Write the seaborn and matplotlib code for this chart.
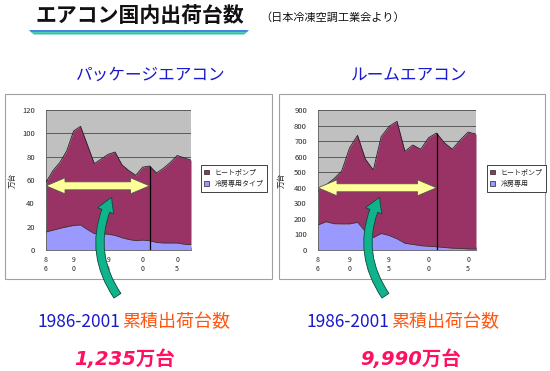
import numpy as np
import pandas as pd
import matplotlib
matplotlib.use('Agg')
import matplotlib.pyplot as plt
import seaborn as sns
from matplotlib.patches import Patch, Polygon, Rectangle, FancyArrowPatch
from matplotlib.transforms import IdentityTransform

# package air conditioners (1986-2007), 10k units
pkg_years = list(range(1986, 2008))
pkg_heatpump = [42.5, 51, 56.5, 65, 81, 84.5, 72.5, 60, 64, 68.5, 71.5, 62.5,
                59, 56, 62.5, 64, 59.5, 64, 69, 75, 74, 72.5]
pkg_cooling = [15.5, 17, 18.5, 20, 21, 21.5, 17.5, 14, 14, 13.5, 12.5, 10.5,
               9, 8, 8.5, 8, 6.5, 6, 6, 6, 5, 4.5]

# room air conditioners (1986-2006), 10k units
room_years = list(range(1986, 2007))
room_heatpump = [217, 236, 288, 340, 489, 559, 466, 434, 622, 702, 755, 591,
                 639, 620, 698, 731, 673, 636, 697, 751, 739]
room_cooling = [161, 182, 169, 168, 168, 178, 118, 80, 107, 93, 72, 43,
                36, 28, 24, 21, 16, 12, 10, 7, 6]

tick_years = [1986, 1990, 1995, 2000, 2005]
tick_labels = ['8\n6', '9\n0', '9\n5', '0\n0', '0\n5']
line_year = 2001

sns.set_theme(style='white')
plt.rcParams['font.family'] = ['Noto Sans CJK JP', 'DejaVu Sans']

W, H = 550, 371
fig = plt.figure(figsize=(5.5, 3.71), dpi=100)


def fx(x):
    return x / W


def fy(y):
    return 1 - y / H


# chart frames
for x0, x1 in [(5, 272), (279, 545)]:
    fig.add_artist(Rectangle((fx(x0), fy(279)), (x1 - x0) / W, (279 - 94) / H,
                             transform=fig.transFigure, facecolor='white',
                             edgecolor='#a0a0a0', lw=0.8, zorder=-1))

ax1 = fig.add_axes([fx(46), fy(250), 145 / W, 140 / H])
ax2 = fig.add_axes([fx(318), fy(250), 158 / W, 140 / H])


def draw_panel(ax, years, heat, cool, ymax, ystep, cool_label, arrow_level, legend_x):
    df = pd.DataFrame({'year': years, 'heat': heat, 'cool': cool})
    df['total'] = df['heat'] + df['cool']
    ax.set_facecolor('#c0c0c0')
    ax.set_axisbelow(True)
    ax.grid(axis='y', color='#4a4a4a', lw=0.6)
    ax.grid(axis='x', visible=False)
    ax.fill_between(df['year'], 0, df['cool'], color='#9999ff', lw=0, zorder=2)
    ax.fill_between(df['year'], df['cool'], df['total'], color='#993366', lw=0, zorder=2)
    sns.lineplot(data=df, x='year', y='total', color='#222222', lw=0.6, ax=ax, zorder=3)
    sns.lineplot(data=df, x='year', y='cool', color='#333333', lw=0.5, ax=ax, zorder=3)
    top = df.loc[df['year'] == line_year, 'total'].iloc[0]
    ax.vlines(line_year, 0, top, color='black', lw=0.9, zorder=4)

    ax.set_xlim(years[0], years[-1])
    ax.set_ylim(0, ymax)
    ax.set_xticks(years)
    ax.set_xticklabels([tick_labels[tick_years.index(y)] if y in tick_years else ''
                        for y in years], linespacing=1.25)
    ax.set_yticks(range(0, ymax + 1, ystep))
    ax.tick_params(axis='x', direction='in', length=2, width=0.5, color='#404040',
                   labelsize=5, pad=4, bottom=True)
    ax.tick_params(axis='y', length=0, labelsize=5.5, pad=8)
    for s in ['top', 'right']:
        ax.spines[s].set_visible(False)
    for s in ['left', 'bottom']:
        ax.spines[s].set_color('#606060')
        ax.spines[s].set_linewidth(0.6)
    ax.set_xlabel('')
    ax.set_ylabel('万台', fontsize=5.5, rotation=90)
    ax.yaxis.set_label_coords(-0.205, 0.5)

    handles = [Patch(facecolor='#993366', edgecolor='#222222', lw=0.5),
               Patch(facecolor='#9999ff', edgecolor='#222222', lw=0.5)]
    leg = ax.legend(handles, ['ヒートポンプ', cool_label], loc='upper left',
                    bbox_to_anchor=(fx(legend_x), fy(165)), bbox_transform=fig.transFigure,
                    borderaxespad=0, frameon=True, fancybox=False, framealpha=1,
                    edgecolor='#222222', fontsize=5, handlelength=0.7, handleheight=0.7,
                    handletextpad=0.8, labelspacing=0.55, borderpad=0.5)
    leg.get_frame().set_linewidth(0.6)

    # yellow double arrow from 1986 to 2001
    xa, ya = ax.transData.transform((years[0], arrow_level))
    xb, _ = ax.transData.transform((line_year, arrow_level))
    hl, hh, sh = 19, 8, 4
    pts = [(xa, ya), (xa + hl, ya + hh), (xa + hl, ya + sh), (xb - hl, ya + sh),
           (xb - hl, ya + hh), (xb, ya), (xb - hl, ya - hh), (xb - hl, ya - sh),
           (xa + hl, ya - sh), (xa + hl, ya - hh)]
    ax.add_patch(Polygon(pts, closed=True, transform=IdentityTransform(),
                         facecolor='#ffff99', edgecolor='#555555', lw=0.6,
                         clip_on=False, zorder=6))


draw_panel(ax1, pkg_years, pkg_heatpump, pkg_cooling, 120, 20, '冷房専用タイプ', 55, 201)
draw_panel(ax2, room_years, room_heatpump, room_cooling, 900, 100, '冷房専用', 400, 487)

# green curved arrows
for dx in [0, 268]:
    arr = FancyArrowPatch(posA=(119 + dx, H - 298), posB=(113 + dx, H - 195),
                          transform=IdentityTransform(),
                          arrowstyle='simple,head_width=1.25,head_length=1.05,tail_width=0.6',
                          mutation_scale=10, connectionstyle='arc3,rad=-0.31',
                          facecolor='#11b38c', edgecolor='#0a4a3a', lw=0.6, zorder=10)
    fig.add_artist(arr)

# title and underline
fig.text(fx(35), fy(16), 'エアコン国内出荷台数', fontsize=15, fontweight='bold',
         color='#111111', ha='left', va='center')
fig.add_artist(Polygon([(fx(29), fy(30)), (fx(249), fy(30)), (fx(247), fy(32.2)),
                        (fx(31), fy(32.2))], closed=True, transform=fig.transFigure,
                       facecolor='#4488dd', lw=0))
fig.add_artist(Polygon([(fx(31), fy(32.2)), (fx(247), fy(32.2)), (fx(244), fy(34.5)),
                        (fx(34), fy(34.5))], closed=True, transform=fig.transFigure,
                       facecolor='#33c4a4', lw=0))
fig.text(fx(260), fy(17.5), '（日本冷凍空調工業会より）', fontsize=8, color='#111111',
         ha='left', va='center')

fig.text(fx(150.5), fy(75.5), 'パッケージエアコン', fontsize=12, color='#1a1acc',
         ha='center', va='center')
fig.text(fx(409.5), fy(75.5), 'ルームエアコン', fontsize=12, color='#1a1acc',
         ha='center', va='center')

for xr, total_text, xc in [(120, '1,235万台', 124.7), (389, '9,990万台', 410.5)]:
    fig.text(fx(xr), fy(322), '1986-2001', fontsize=12.5, color='#1a1acc',
             ha='right', va='center')
    fig.text(fx(xr + 2), fy(322), '累積出荷台数', fontsize=13, color='#ff5511',
             ha='left', va='center')
    fig.text(fx(xc), fy(359.5), total_text, fontsize=14, fontweight='bold',
             fontstyle='italic', color='#ff1060', ha='center', va='center',
             family=['DejaVu Sans', 'Noto Sans CJK JP'])

fig.savefig('out.png', dpi=100)
